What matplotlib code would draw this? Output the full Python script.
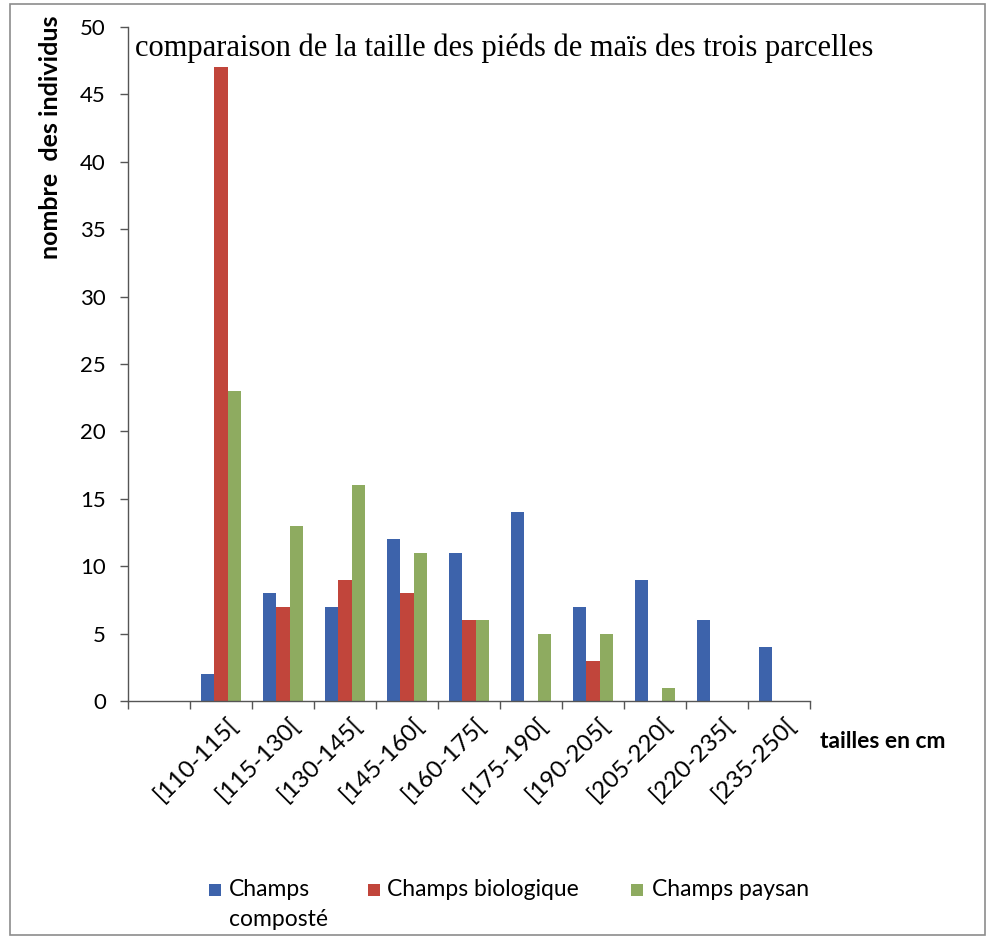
import matplotlib
matplotlib.use("Agg")
from matplotlib import pyplot as plt
from matplotlib.patches import Rectangle
from matplotlib.transforms import ScaledTranslation
import numpy as np

# Height classes (the first slot stays empty, like in the original chart)
classes = ["", "[110-115[", "[115-130[", "[130-145[", "[145-160[", "[160-175[",
           "[175-190[", "[190-205[", "[205-220[", "[220-235[", "[235-250["]
# Number of plants per class for each field
champsComposte = [0, 2, 8, 7, 12, 11, 14, 7, 9, 6, 4]
champsBiologique = [0, 47, 7, 9, 8, 6, 0, 3, 0, 0, 0]
champsPaysan = [0, 23, 13, 16, 11, 6, 5, 5, 1, 0, 0]
seriesNames = ["Champs\ncomposté", "Champs biologique", "Champs paysan"]
seriesColors = ["#3d63ab", "#c1453b", "#8eab60"]
yTicks = [0, 5, 10, 15, 20, 25, 30, 35, 40, 45, 50]

sansFont = "Lato"
serifFont = "Liberation Serif"

W, H = 988, 938
fig = plt.figure(figsize=(W/100, H/100), dpi=100)
fig.patch.set_facecolor("white")

# Main axes, positioned in pixels of the reference
ax = fig.add_axes([128/W, 1-701/H, (810-128)/W, (701-27)/H])
x = np.arange(len(classes))
barWidth = 0.215
allSeries = [champsComposte, champsBiologique, champsPaysan]
for i, (vals, col) in enumerate(zip(allSeries, seriesColors)):
    ax.bar(x + (i-1)*barWidth, vals, width=barWidth, color=col, linewidth=0)

ax.set_xlim(-0.5, len(classes)-0.5)
ax.set_ylim(0, 50)
ax.set_yticks(yTicks)
ax.set_yticklabels([str(t) for t in yTicks], fontsize=16, family=sansFont)
ax.tick_params(axis="y", direction="out", length=6, width=1, color="#555555", pad=10)
# category labels at centres, tick marks at the boundaries
ax.set_xticks(x)
ax.set_xticklabels(classes, rotation=45, ha="right", va="top", rotation_mode="anchor",
                   fontsize=17.5, family=sansFont)
ax.set_xticks(np.arange(-0.5, len(classes), 1), minor=True)
ax.tick_params(axis="x", which="major", length=0, pad=9)
ax.tick_params(axis="x", which="minor", direction="out", length=6, width=1, color="#555555")
shift = ScaledTranslation(6/100, 0, fig.dpi_scale_trans)
for lab in ax.get_xticklabels():
    lab.set_transform(lab.get_transform() + shift)
for side in ["top", "right"]:
    ax.spines[side].set_visible(False)
for side in ["left", "bottom"]:
    ax.spines[side].set_color("#555555")
    ax.spines[side].set_linewidth(1)

# Texts
fig.text(135/W, 1-48/H, "comparaison de la taille des piéds de maïs des trois parcelles",
         family=serifFont, fontsize=22, va="center", ha="left")
fig.text(50/W, 1-137/H, "nombre  des individus", rotation=90, family=sansFont,
         fontweight="bold", fontsize=18, ha="center", va="center")
fig.text(820/W, 1-742/H, "tailles en cm", family=sansFont, fontweight="bold",
         fontsize=16.5, ha="left", va="center")

# Legend drawn by hand so the wrapped label keeps its box on the first line
legendSquares = [209, 368, 631]
legendTexts = [229, 387, 652]
for name, col, sx, tx in zip(seriesNames, seriesColors, legendSquares, legendTexts):
    fig.add_artist(Rectangle((sx/W, 1-896/H), 12/W, 12/H, transform=fig.transFigure,
                             facecolor=col, edgecolor="none"))
    fig.text(tx/W, 1-879/H, name, family=sansFont, fontsize=16.5, ha="left", va="top",
             linespacing=1.5)

# Thin frame around the whole chart
fig.add_artist(Rectangle((10/W, 1-935/H), 975/W, 931/H, transform=fig.transFigure,
                         facecolor="none", edgecolor="#8c8c8c", linewidth=1.2))

fig.savefig("out.png", dpi=100)
